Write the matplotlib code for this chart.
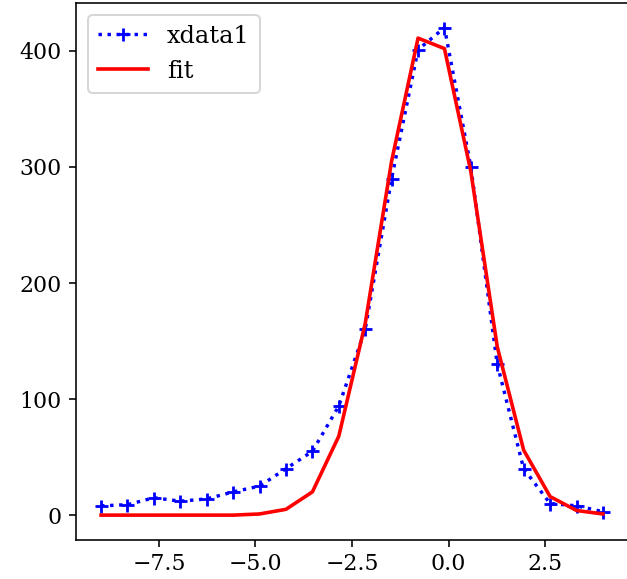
import numpy as np
import matplotlib
matplotlib.use("Agg")
import matplotlib.pyplot as plt

plt.rcParams['font.family'] = ['DejaVu Serif']

# data
x_values = [-9.0, -8.316, -7.632, -6.947, -6.263, -5.579, -4.895, -4.211,
            -3.526, -2.842, -2.158, -1.474, -0.789, -0.105, 0.579, 1.263,
            1.947, 2.632, 3.316, 4.0]
xdata1 = [8, 9, 15, 12, 14, 20, 25, 40, 55, 94, 160, 290, 401, 420, 300,
          130, 40, 10, 8, 3]
fit = [0, 0, 0, 0, 0, 0, 1, 5, 20, 68, 165, 305, 411, 402, 296,
       145, 56, 16, 4, 1]
x_ticks = [-7.5, -5.0, -2.5, 0.0, 2.5]
y_ticks = [0, 100, 200, 300, 400]

W, H = 627, 579
dpi = 144
fig = plt.figure(figsize=(W / dpi, H / dpi), dpi=dpi)
left, right, top, bottom = 76, 628, 3.3, 539.5
ax = fig.add_axes([left / W, (H - bottom) / H, (right - left) / W, (bottom - top) / H])

ax.plot(x_values, xdata1, 'b:+', label='xdata1', linewidth=1.7,
        markersize=6.5, markeredgewidth=1.4)
ax.plot(x_values, fit, 'r-', label='fit', linewidth=1.8)
ax.set_xticks(x_ticks)
ax.set_yticks(y_ticks)
ax.tick_params(labelsize=11)
ax.legend(loc='upper left', fontsize=12, handlelength=2.1)

fig.savefig('out.png', dpi=dpi)
